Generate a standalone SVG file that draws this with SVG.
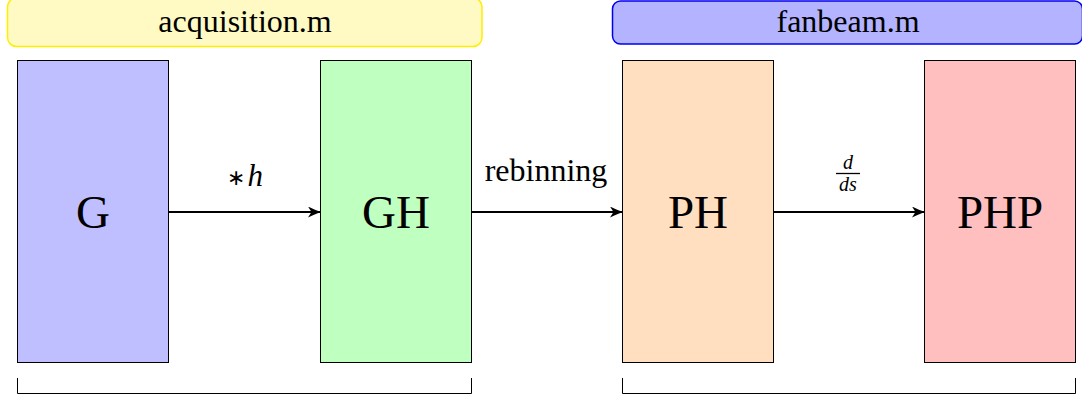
<svg xmlns="http://www.w3.org/2000/svg" width="1082" height="396" viewBox="0 0 1082 396">
<defs>
<style>
.box{stroke:#000;stroke-width:1}
.conn{stroke:#000;stroke-width:2;fill:none}
.br{stroke:#000;stroke-width:1;fill:none}
</style>
<marker id="arr" viewBox="0 0 13 11" refX="12" refY="5.5" markerWidth="13" markerHeight="11" orient="auto" markerUnits="userSpaceOnUse">
<path d="M0,0 Q8,4 13,5.5 Q8,7 0,11 L3.5,5.5 Z" fill="#000"/>
</marker>
</defs>
<rect width="1082" height="396" fill="#fff"/>
<g id="hdr-acq">
<rect x="7.5" y="-2" width="474.5" height="48.5" rx="9" fill="#fffac4" stroke="#ffee00" stroke-width="1.5"/>
<text x="245" y="32" font-family="'Liberation Serif', serif" font-size="32" text-anchor="middle">acquisition.m</text>
</g>
<g id="hdr-fan">
<rect x="612.5" y="1" width="470" height="43" rx="8" fill="#b3b3ff" stroke="#0000ee" stroke-width="1.5"/>
<text x="848" y="32" font-family="'Liberation Serif', serif" font-size="32" text-anchor="middle">fanbeam.m</text>
</g>
<g id="G">
<rect class="box" x="17.5" y="60.5" width="151" height="302" fill="#bfbfff"/>
<text x="93" y="228" font-family="'Liberation Serif', serif" font-size="47" text-anchor="middle">G</text>
</g>
<g id="GH">
<rect class="box" x="320.5" y="60.5" width="151" height="302" fill="#bfffbf"/>
<text x="396" y="228" font-family="'Liberation Serif', serif" font-size="47" text-anchor="middle">GH</text>
</g>
<g id="PH">
<rect class="box" x="622.5" y="60.5" width="151" height="302" fill="#ffdfbf"/>
<text x="698" y="228" font-family="'Liberation Serif', serif" font-size="47" text-anchor="middle">PH</text>
</g>
<g id="PHP">
<rect class="box" x="924.5" y="60.5" width="151" height="302" fill="#ffbfbf"/>
<text x="1000" y="228" font-family="'Liberation Serif', serif" font-size="47" text-anchor="middle">PHP</text>
</g>
<g id="connectors">
<line class="conn" x1="169" y1="212" x2="320" y2="212" marker-end="url(#arr)"/>
<line class="conn" x1="472" y1="212" x2="622" y2="212" marker-end="url(#arr)"/>
<line class="conn" x1="774" y1="212" x2="924" y2="212" marker-end="url(#arr)"/>
<text x="245" y="186" font-family="'Liberation Serif', serif" font-size="31" text-anchor="middle"><tspan font-family="'DejaVu Sans', sans-serif" font-size="22" dy="-1">∗</tspan><tspan font-style="italic" dx="2" dy="1">h</tspan></text>
<text x="546" y="181" font-family="'Liberation Serif', serif" font-size="32" text-anchor="middle">rebinning</text>
<text x="848" y="169" font-family="'Liberation Serif', serif" font-style="italic" font-size="20" text-anchor="middle">d</text>
<line x1="836" y1="173.5" x2="860" y2="173.5" stroke="#000" stroke-width="1.3"/>
<text x="848" y="191" font-family="'Liberation Serif', serif" font-style="italic" font-size="20" text-anchor="middle">ds</text>
</g>
<g id="brackets">
<path class="br" d="M17.5,378 V393.5 H471.5 V378"/>
<path class="br" d="M622.5,378 V393.5 H1075.5 V378"/>
</g>
</svg>
